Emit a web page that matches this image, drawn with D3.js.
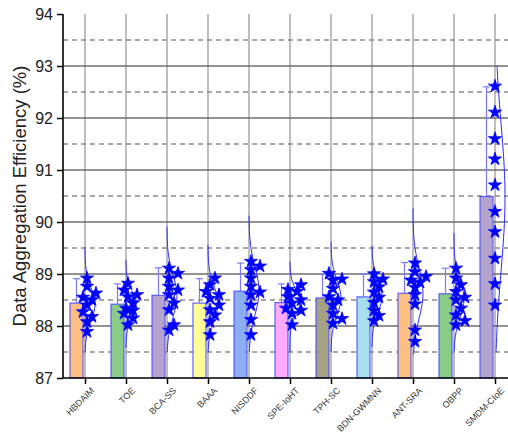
<!DOCTYPE html>
<html>
<head>
<meta charset="utf-8">
<script src="https://cdn.jsdelivr.net/npm/d3@7"></script>
<style>
  body { margin: 0; background: #fff; }
  svg text { font-family: "Liberation Sans", Arial, sans-serif; }
</style>
</head>
<body>
<div id="chart"></div>
<script>
const categories = ["HBDAIM", "TOE", "BCA-SS", "BAAA", "NISDDF", "SPE-IoHT", "TPH-SC", "BDN-GWMNN", "ANT-SRA", "OBPP", "SMDM-CIoE"];
const barValues = [88.44, 88.42, 88.59, 88.44, 88.67, 88.45, 88.54, 88.56, 88.63, 88.62, 90.49];
const errorTops = [88.91, 88.81, 89.12, 88.91, 89.21, 88.81, 89.0, 89.0, 89.22, 89.11, 92.6];
const curveTops = [89.52, 89.27, 89.91, 89.56, 90.12, 89.24, 89.62, 89.54, 90.26, 89.79, 93.0];
const curveBottoms = [87.5, 87.58, 87.5, 87.5, 87.5, 87.5, 87.5, 87.6, 87.45, 87.52, 87.5];
const barColors = ["#fdc082", "#88cc88", "#b4a4cc", "#ffff99", "#8aaef0", "#ffaaff", "#a4a282", "#a6e0ee", "#fdc082", "#88cc88", "#b4a4cc"];
const samples = [
  [88.92, 88.76, 88.63, 88.55, 88.5, 88.4, 88.27, 88.18, 88.08, 87.89],
  [88.82, 88.69, 88.6, 88.56, 88.44, 88.34, 88.3, 88.24, 88.15, 88.02],
  [89.11, 89.01, 88.92, 88.76, 88.69, 88.6, 88.44, 88.31, 88.02, 87.92],
  [88.92, 88.79, 88.66, 88.6, 88.53, 88.4, 88.31, 88.21, 88.08, 87.83],
  [89.24, 89.15, 89.08, 88.92, 88.76, 88.65, 88.6, 88.4, 88.12, 87.83],
  [88.79, 88.7, 88.66, 88.56, 88.5, 88.44, 88.34, 88.3, 88.24, 88.02],
  [89.01, 88.9, 88.88, 88.72, 88.56, 88.5, 88.4, 88.24, 88.14, 88.05],
  [89.0, 88.9, 88.85, 88.75, 88.65, 88.55, 88.45, 88.3, 88.2, 88.1],
  [89.21, 89.04, 88.95, 88.88, 88.84, 88.74, 88.6, 88.42, 87.92, 87.7],
  [89.11, 88.92, 88.79, 88.66, 88.55, 88.5, 88.34, 88.21, 88.1, 88.02],
  [92.61, 92.11, 91.6, 91.21, 90.71, 90.2, 89.81, 89.3, 88.81, 88.4]
];
const yTicks = [87, 88, 89, 90, 91, 92, 93, 94];
const yMinor = [87.5, 88.5, 89.5, 90.5, 91.5, 92.5, 93.5];

const width = 508, height = 434;
const plot = { left: 63, right: 508, top: 14, bottom: 378 };

const svg = d3.select("#chart").append("svg")
  .attr("width", width)
  .attr("height", height);

const x = d3.scalePoint()
  .domain(categories)
  .range([85, 495]);

const y = d3.scaleLinear()
  .domain([87, 94])
  .range([plot.bottom, plot.top]);

// grid
const grid = svg.append("g");
grid.selectAll(".vgrid")
  .data(categories)
  .enter()
  .append("line")
  .attr("x1", d => x(d)).attr("x2", d => x(d))
  .attr("y1", plot.top).attr("y2", plot.bottom)
  .attr("stroke", "#a8a8a8")
  .attr("stroke-width", 1.5);

grid.selectAll(".hminor")
  .data(yMinor)
  .enter()
  .append("line")
  .attr("x1", plot.left).attr("x2", plot.right)
  .attr("y1", d => y(d)).attr("y2", d => y(d))
  .attr("stroke", "#8a8a8a")
  .attr("stroke-width", 1.5)
  .attr("stroke-dasharray", "5 4");

grid.selectAll(".hmajor")
  .data(yTicks.slice(1, -1))
  .enter()
  .append("line")
  .attr("x1", plot.left).attr("x2", plot.right)
  .attr("y1", d => y(d)).attr("y2", d => y(d))
  .attr("stroke", "#6e6e6e")
  .attr("stroke-width", 1.5);

// bars
const barW = 13;
svg.selectAll(".bar")
  .data(categories)
  .enter()
  .append("rect")
  .attr("x", d => x(d) - 15)
  .attr("y", (d, i) => y(barValues[i]))
  .attr("width", barW)
  .attr("height", (d, i) => y(87) - y(barValues[i]))
  .attr("fill", (d, i) => barColors[i])
  .attr("stroke", "#4040ff")
  .attr("stroke-opacity", 0.8)
  .attr("stroke-width", 1.2);

// error bars
const err = svg.append("g")
  .attr("stroke", "#7a7aff")
  .attr("stroke-width", 1.2);
categories.forEach((c, i) => {
  const cx = x(c) - 15 + barW / 2;
  err.append("line")
    .attr("x1", cx).attr("x2", cx)
    .attr("y1", y(barValues[i])).attr("y2", y(errorTops[i]));
  err.append("line")
    .attr("x1", cx - 3.5).attr("x2", cx + 3.5)
    .attr("y1", y(errorTops[i])).attr("y2", y(errorTops[i]));
});

// distribution curves
const curveLine = d3.line()
  .x(d => d[0])
  .y(d => d[1])
  .curve(d3.curveBasis);

categories.forEach((c, i) => {
  const m = d3.mean(samples[i]);
  const s = d3.deviation(samples[i]);
  const steps = d3.range(curveBottoms[i], curveTops[i] + 0.001, (curveTops[i] - curveBottoms[i]) / 60);
  const pts = steps.map(v => {
    const z = (v - m) / s;
    return [x(c) + 10 * Math.exp(-0.5 * z * z), y(v)];
  });
  svg.append("path")
    .attr("d", curveLine(pts))
    .attr("fill", "none")
    .attr("stroke", "#2a2aff")
    .attr("stroke-width", 1);
});

// points (stars), simple dodge so they do not pile up
const star = d3.symbol().type(d3.symbolStar).size(54);
const offsets = [0, 5, -4, 9, -6, 11];
categories.forEach((c, i) => {
  const placed = [];
  const spread = d3.max(samples[i]) - d3.min(samples[i]);
  samples[i].slice().sort((a, b) => a - b).forEach(v => {
    const py = y(v);
    let px = x(c);
    if (spread < 3) {
      for (const o of offsets) {
        const cand = x(c) + 2 + o;
        const clash = placed.some(p => Math.hypot(p[0] - cand, p[1] - py) < 7);
        if (!clash) { px = cand; break; }
      }
    }
    placed.push([px, py]);
  });
  svg.append("g")
    .selectAll("path")
    .data(placed)
    .enter()
    .append("path")
    .attr("d", star)
    .attr("transform", d => `translate(${d[0]},${d[1]})`)
    .attr("fill", "#0000ff")
    .attr("stroke", "#0000ff")
    .attr("stroke-width", 0.8);
});

// axes
const yAxis = svg.append("g")
  .attr("transform", `translate(${plot.left},0)`)
  .call(d3.axisLeft(y).tickValues(yTicks).tickFormat(d3.format("d")).tickSize(6).tickPadding(4));
yAxis.select(".domain").attr("stroke-width", 1.6).attr("d", `M0,${plot.top}V${plot.bottom}`);
yAxis.selectAll(".tick line").attr("stroke-width", 1.5);
yAxis.selectAll("text").attr("font-size", 16).attr("fill", "#222");

const xAxis = svg.append("g")
  .attr("transform", `translate(0,${plot.bottom})`)
  .call(d3.axisBottom(x).tickSize(6));
xAxis.select(".domain").attr("stroke-width", 1.6).attr("d", `M${plot.left},0H${plot.right}`);
xAxis.selectAll(".tick line").attr("stroke-width", 1.5);
xAxis.selectAll("text")
  .attr("font-size", 9)
  .attr("fill", "#333")
  .attr("x", 0)
  .attr("y", 0)
  .attr("dy", "0.35em")
  .style("text-anchor", "end")
  .attr("transform", "translate(7,11) rotate(-45)");

svg.append("text")
  .attr("transform", `translate(26,${(plot.top + plot.bottom) / 2}) rotate(-90)`)
  .attr("text-anchor", "middle")
  .attr("font-size", 18.5)
  .attr("fill", "#222")
  .text("Data Aggregation Efficiency (%)");
</script>
</body>
</html>
